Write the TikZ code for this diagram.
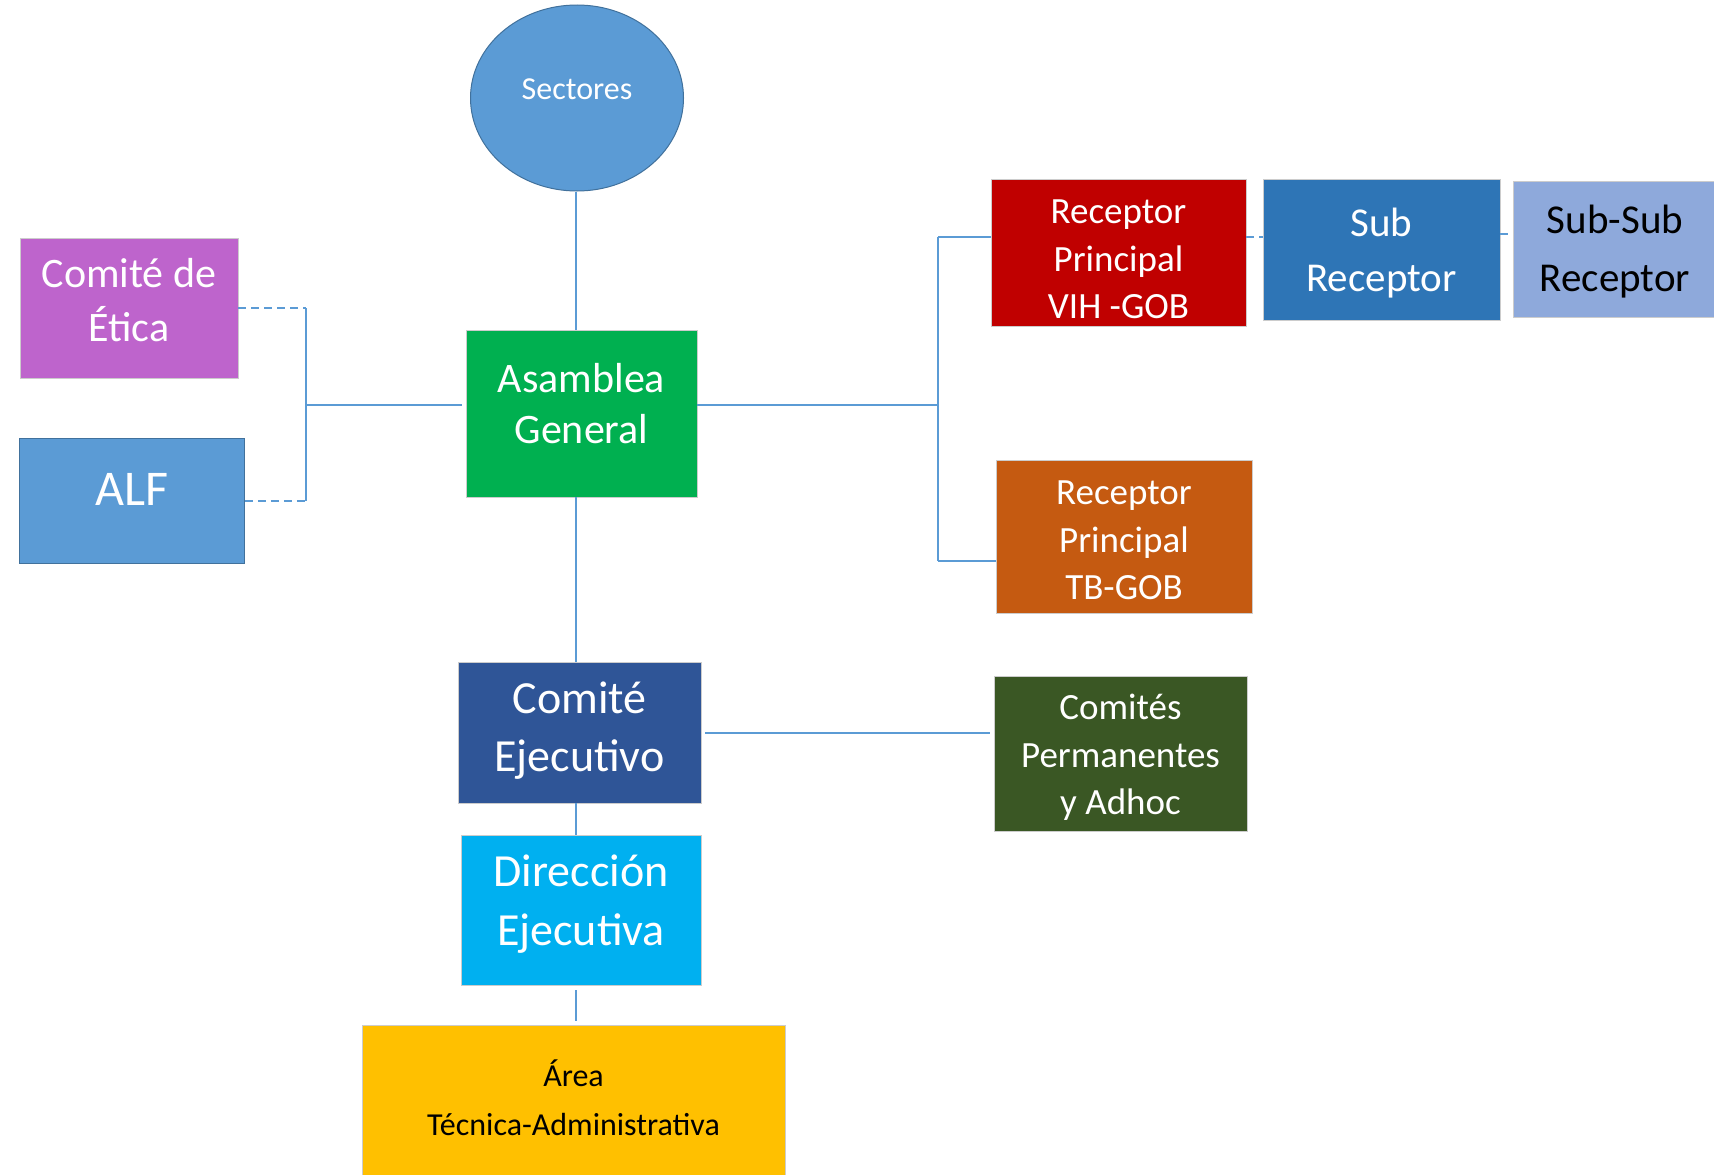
\documentclass[tikz,border=0pt]{standalone}
\usepackage{fontspec}
\setmainfont{Carlito}
\usepackage{tikz}
\usetikzlibrary{shapes.geometric}
\definecolor{azul500}{HTML}{5B9BD5}
\definecolor{azulborde}{HTML}{41719C}
\definecolor{morado}{HTML}{BE64CC}
\definecolor{verde}{HTML}{00B050}
\definecolor{rojo}{HTML}{C00000}
\definecolor{azulsub}{HTML}{2E75B6}
\definecolor{azulclaro}{HTML}{8EA9DB}
\definecolor{naranja}{HTML}{C55A11}
\definecolor{azulosc}{HTML}{2F5597}
\definecolor{verdeosc}{HTML}{3A5724}
\definecolor{celeste}{HTML}{00B0F0}
\definecolor{amarillo}{HTML}{FFC000}
\tikzstyle{bloque}=[rectangle, draw=white!80!black, line width=0.8pt, text=white, align=center, inner sep=0pt]
\tikzstyle{enlace}=[draw=azul500, line width=2pt]
\tikzstyle{punteado}=[dash pattern=on 8pt off 5pt]
\newcommand{\fs}[2]{\fontsize{#1}{#2}\selectfont}
\newcommand{\texto}[2]{\raisebox{#1}[0pt][0pt]{\begin{tabular}{@{}c@{}}#2\end{tabular}}}

\begin{document}
\begin{tikzpicture}[x=1pt, y=-1pt]
			\clip (0,0) rectangle (1714,1175);
			\fill[white] (0,0) rectangle (1714,1175);
			\node[ellipse, draw=azulborde, fill=azul500, line width=1pt, text=white, minimum width=213, minimum height=186, font=\fs{32}{40}] (sectores) at (577,98) {\raisebox{-1pt}[0pt][0pt]{Sectores}};
			\node[bloque, fill=morado, minimum width=218, minimum height=140, font=\fs{42}{54}] (etica) at (129,308) {\texto{-1.7pt}{Comité de\\Ética}};
			\node[bloque, fill=azul500, draw=azulborde, minimum width=225, minimum height=125, font=\fs{50}{60}] (alf) at (132,500.5) {\raisebox{-5.3pt}[0pt][0pt]{ALF}};
			\node[bloque, fill=verde, minimum width=231, minimum height=167, font=\fs{42}{51}] (asamblea) at (581.5,413.5) {\texto{-0.7pt}{Asamblea\\General}};
			\node[bloque, fill=rojo, minimum width=255, minimum height=147, font=\fs{37}{47.5}] (vih) at (1118.5,252.5) {\texto{-15.7pt}{Receptor\\Principal\\VIH -GOB}};
			\node[bloque, fill=azulsub, minimum width=237, minimum height=141, font=\fs{41}{55}] (sub) at (1381.5,249.5) {\texto{-10.2pt}{Sub\\Receptor}};
			\node[bloque, fill=azulclaro, text=black, minimum width=204, minimum height=136, font=\fs{41}{58}] (subsub) at (1615,249) {\texto{-7.9pt}{Sub-Sub\\Receptor}};
			\node[bloque, fill=naranja, minimum width=256, minimum height=153, font=\fs{37}{47.5}] (tb) at (1124,536.5) {\texto{-12.5pt}{Receptor\\Principal\\TB-GOB}};
			\node[bloque, fill=azulosc, minimum width=243, minimum height=141, font=\fs{46}{58}] (ejecutivo) at (579.5,732.5) {\texto{-5pt}{Comité\\Ejecutivo}};
			\node[bloque, fill=verdeosc, minimum width=253, minimum height=155, font=\fs{37}{47.5}] (permanentes) at (1120.5,753.5) {\texto{-10.3pt}{Comités\\Permanentes\\y Adhoc}};
			\node[bloque, fill=celeste, minimum width=240, minimum height=150, font=\fs{46}{59}] (direccion) at (581,910) {\texto{-0.5pt}{Dirección\\Ejecutiva}};
			\node[bloque, fill=amarillo, text=black, minimum width=423, minimum height=152, font=\fs{32}{49}] (area) at (573.5,1101) {\texto{-6.8pt}{Área\\Técnica-Administrativa}};
			\coordinate (izq) at (306,405);
			\coordinate (der) at (938,405);
			\coordinate (eje) at (576,0);
			% lado izquierdo
			\path[enlace, punteado] (etica.east)--(etica.east -| izq) (alf.east)--(alf.east -| izq);
			\path[enlace] (etica.east -| izq)--(alf.east -| izq);
			\path[enlace, shorten >=4pt] (izq)--(asamblea.west |- izq);
			% lado derecho
			\path[enlace] (asamblea.east |- der)--(der)
				([yshift=16]vih.west -| der)--([yshift=-24.5]tb.west -| der)
				([yshift=16]vih.west -| der)--([yshift=16]vih.west)
				([yshift=-24.5]tb.west -| der)--([yshift=-24.5]tb.west);
			\path[enlace, punteado] ([yshift=16]vih.east)--([yshift=16]vih.east -| sub.west)
				([yshift=16]sub.east)--([yshift=16]sub.east -| subsub.west);
			% eje central
			\path[enlace, shorten >=4pt, shorten <=5pt] (sectores.south -| eje)--(asamblea.north -| eje)
				(asamblea.south -| eje)--(ejecutivo.north -| eje)
				(ejecutivo.south -| eje)--(direccion.north -| eje)
				(direccion.south -| eje)--(area.north -| eje);
			\path[enlace, shorten <=4pt, shorten >=4pt] (ejecutivo.east)--(ejecutivo.east -| permanentes.west);
		\end{tikzpicture}
\end{document}
